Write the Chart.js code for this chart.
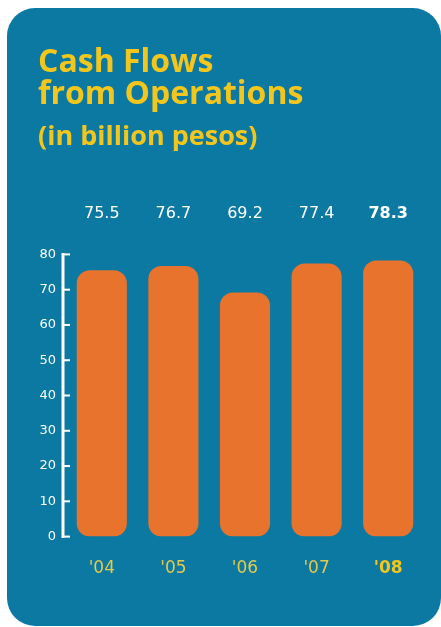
<!DOCTYPE html>
<html>
<head>
<meta charset="utf-8">
<script src="https://cdn.jsdelivr.net/npm/chart.js@4/dist/chart.umd.min.js"></script>
<style>
html,body{margin:0;padding:0;background:#ffffff;}
#wrap{width:441px;height:627px;position:relative;}
</style>
</head>
<body>
<div id="wrap"><canvas id="c" width="441" height="627"></canvas></div>
<script>
const titleLines = ['Cash Flows', 'from Operations'];
const subtitleText = '(in billion pesos)';
const years = ["'04", "'05", "'06", "'07", "'08"];
const cashFlows = [75.5, 76.7, 69.2, 77.4, 78.3];
const valueLabels = ['75.5', '76.7', '69.2', '77.4', '78.3'];
const yTicks = [0, 10, 20, 30, 40, 50, 60, 70, 80];

const PANEL = '#0b79a2';
const ORANGE = '#e8732d';
const YELLOW = '#f3c61e';
const LABEL_YELLOW = '#e2ca4e';

const panelPlugin = {
  id: 'panel',
  beforeDraw(chart) {
    const ctx = chart.ctx;
    ctx.save();
    ctx.fillStyle = '#ffffff';
    ctx.fillRect(0, 0, chart.width, chart.height);
    ctx.fillStyle = PANEL;
    ctx.beginPath();
    ctx.roundRect(7, 8, 434, 618, 28);
    ctx.fill();
    ctx.restore();
  }
};

const axisPlugin = {
  id: 'axisDraw',
  afterDatasetsDraw(chart) {
    const ctx = chart.ctx;
    const y = chart.scales.y;
    const x0 = chart.chartArea.left - 3;
    ctx.save();
    ctx.strokeStyle = '#ffffff';
    ctx.lineWidth = 3;
    ctx.beginPath();
    ctx.moveTo(x0, y.getPixelForValue(80) - 1.5);
    ctx.lineTo(x0, y.getPixelForValue(0) + 1.5);
    ctx.stroke();
    ctx.lineWidth = 2;
    yTicks.forEach(v => {
      const py = y.getPixelForValue(v);
      ctx.beginPath();
      ctx.moveTo(x0, py);
      ctx.lineTo(x0 + 7, py);
      ctx.stroke();
    });
    // value labels row
    const xs = chart.scales.x;
    ctx.textAlign = 'center';
    ctx.textBaseline = 'middle';
    ctx.fillStyle = '#ffffff';
    valueLabels.forEach((t, i) => {
      ctx.font = (i === valueLabels.length - 1 ? 'bold ' : '') + '16px "DejaVu Sans"';
      ctx.fillText(t, xs.getPixelForValue(i), chart.chartArea.top - 41);
    });
    ctx.restore();
  }
};

new Chart(document.getElementById('c'), {
  type: 'bar',
  data: {
    labels: years,
    datasets: [{
      data: cashFlows,
      backgroundColor: ORANGE,
      borderWidth: 0,
      borderRadius: 13,
      borderSkipped: false,
      barPercentage: 0.70,
      categoryPercentage: 1.0
    }]
  },
  options: {
    responsive: false,
    animation: false,
    devicePixelRatio: 1,
    layout: { padding: { left: 38, right: 17, top: 47, bottom: 26 } },
    plugins: {
      legend: { display: false },
      tooltip: { enabled: false },
      title: {
        display: true,
        text: titleLines,
        align: 'start',
        color: YELLOW,
        font: { family: '"Open Sans"', size: 32, weight: 'bold', lineHeight: 1.0 },
        padding: { top: 0, bottom: 0 }
      },
      subtitle: {
        display: true,
        text: subtitleText,
        align: 'start',
        color: YELLOW,
        font: { family: '"Open Sans"', size: 27, weight: 'bold', lineHeight: 1.2 },
        padding: { top: 10, bottom: 101 }
      }
    },
    scales: {
      x: {
        grid: { display: false, drawTicks: false },
        border: { display: false },
        ticks: {
          padding: 22,
          color: ctx => ctx.index === 4 ? YELLOW : LABEL_YELLOW,
          font: ctx => ({ family: '"DejaVu Sans"', size: 17, weight: ctx.index === 4 ? 'bold' : 'normal' })
        }
      },
      y: {
        min: 0,
        max: 80,
        afterFit(scale) { scale.width = 28; },
        grid: { display: false, drawTicks: false },
        border: { display: false },
        ticks: {
          stepSize: 10,
          padding: 10,
          color: '#ffffff',
          font: { family: '"DejaVu Sans"', size: 13 }
        }
      }
    }
  },
  plugins: [panelPlugin, axisPlugin]
});
</script>
</body>
</html>
